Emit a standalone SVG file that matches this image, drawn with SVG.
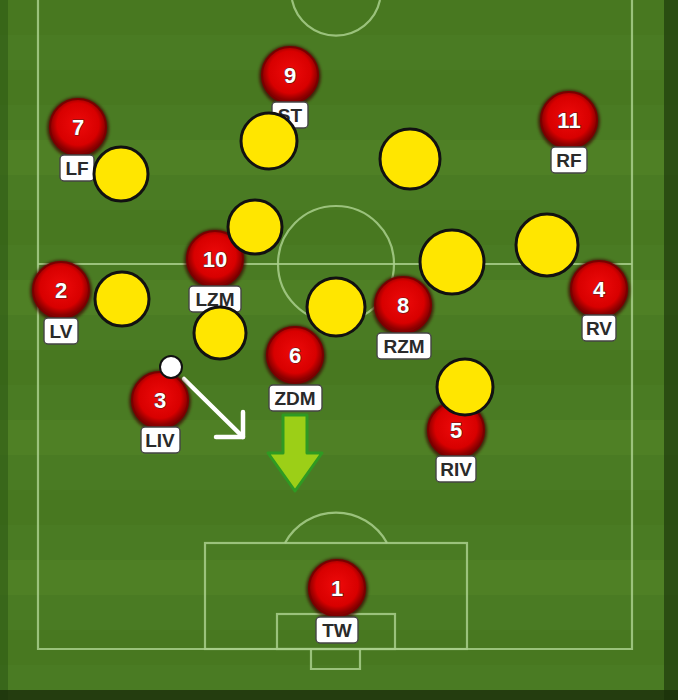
<svg xmlns="http://www.w3.org/2000/svg" width="678" height="700" viewBox="0 0 678 700">
<defs>
<radialGradient id="red" cx="50%" cy="45%" r="50%">
<stop offset="0" stop-color="#ee0a0a"/>
<stop offset="0.75" stop-color="#d80000"/>
<stop offset="1" stop-color="#8a0000"/>
</radialGradient>
<filter id="glow" x="-30%" y="-30%" width="160%" height="160%">
<feGaussianBlur stdDeviation="1.8"/>
</filter>
</defs>
<style>
.line{fill:none;stroke:#a9cf8c;stroke-width:2.2;opacity:0.85}
.shadow{fill:#3a0600;opacity:0.7}
.tok{fill:url(#red);stroke:#7a0000;stroke-width:2}
.num{font-family:"Liberation Sans",Arial,sans-serif;font-weight:bold;font-size:22px;fill:#fff;stroke:#5a1a1a;stroke-width:1.2;paint-order:stroke;text-anchor:middle}
.lab{fill:#fff;stroke:#444;stroke-width:1.4}
.labt{font-family:"Liberation Sans",Arial,sans-serif;font-weight:bold;font-size:19px;fill:#2a2a2a;text-anchor:middle}
.opp{fill:#ffe600;stroke:#111;stroke-width:3}
</style>
<!-- pitch background -->
<rect x="0" y="0" width="678" height="700" fill="#4a7b23"/>
<g opacity="0.5">
<rect x="0" y="0" width="678" height="35" fill="#47761f"/>
<rect x="0" y="70" width="678" height="35" fill="#47761f"/>
<rect x="0" y="140" width="678" height="35" fill="#548628"/>
<rect x="0" y="210" width="678" height="35" fill="#47761f"/>
<rect x="0" y="280" width="678" height="35" fill="#548628"/>
<rect x="0" y="350" width="678" height="35" fill="#47761f"/>
<rect x="0" y="420" width="678" height="35" fill="#548628"/>
<rect x="0" y="490" width="678" height="35" fill="#47761f"/>
<rect x="0" y="560" width="678" height="35" fill="#548628"/>
<rect x="0" y="630" width="678" height="35" fill="#47761f"/>
</g>
<rect x="0" y="0" width="8" height="700" fill="#2f5a14" opacity="0.6"/>
<rect x="664" y="0" width="14" height="700" fill="#1e3a0c" opacity="0.7"/>
<rect x="0" y="690" width="678" height="10" fill="#1a2e0a" opacity="0.8"/>
<!-- field lines -->
<g id="pitch-lines">
<path class="line" d="M38,0 V649 H632 V0"/>
<line class="line" x1="38" y1="264" x2="632" y2="264"/>
<circle class="line" cx="336" cy="264" r="58"/>
<path class="line" d="M292,0 A45,45 0 0 0 380,0"/>
<rect class="line" x="205" y="543" width="262" height="106"/>
<rect class="line" x="277" y="614" width="118" height="35"/>
<path class="line" d="M311,649 V669 H360 V649"/>
<path class="line" d="M285,543 A58,58 0 0 1 387,543"/>
</g>
<!-- connectors / arrows -->
<g id="connectors">
<line x1="184" y1="379" x2="243" y2="437" stroke="#fff" stroke-width="4.5" stroke-linecap="round"/>
<path d="M243,412 V437 H216" fill="none" stroke="#fff" stroke-width="4.5" stroke-linecap="round" stroke-linejoin="round"/>
<path d="M283,415 H307 V453 H322 L295,491 L268,453 H283 Z" fill="#9ccf17" stroke="#2f9a22" stroke-width="3" stroke-linejoin="round"/>
</g>
<!-- players -->
<g id="p9"><circle class="shadow" cx="290" cy="76" r="31" filter="url(#glow)"/><circle class="tok" cx="290" cy="75" r="28"/><text class="num" x="290" y="83">9</text><rect class="lab" x="272" y="102" width="36" height="26" rx="4"/><text class="labt" x="290" y="122">ST</text></g>
<g id="p7"><circle class="shadow" cx="78" cy="128" r="31" filter="url(#glow)"/><circle class="tok" cx="78" cy="127" r="28"/><text class="num" x="78" y="135">7</text><rect class="lab" x="60" y="155" width="34" height="26" rx="4"/><text class="labt" x="77" y="175">LF</text></g>
<g id="p11"><circle class="shadow" cx="569" cy="121" r="31" filter="url(#glow)"/><circle class="tok" cx="569" cy="120" r="28"/><text class="num" x="569" y="128">11</text><rect class="lab" x="551" y="147" width="36" height="26" rx="4"/><text class="labt" x="569" y="167">RF</text></g>
<g id="p10"><circle class="shadow" cx="215" cy="260" r="31" filter="url(#glow)"/><circle class="tok" cx="215" cy="259" r="28"/><text class="num" x="215" y="267">10</text><rect class="lab" x="189" y="286" width="52" height="26" rx="4"/><text class="labt" x="215" y="306">LZM</text></g>
<g id="p2"><circle class="shadow" cx="61" cy="291" r="31" filter="url(#glow)"/><circle class="tok" cx="61" cy="290" r="28"/><text class="num" x="61" y="298">2</text><rect class="lab" x="44" y="318" width="34" height="26" rx="4"/><text class="labt" x="61" y="338">LV</text></g>
<g id="p8"><circle class="shadow" cx="403" cy="306" r="31" filter="url(#glow)"/><circle class="tok" cx="403" cy="305" r="28"/><text class="num" x="403" y="313">8</text><rect class="lab" x="377" y="333" width="54" height="26" rx="4"/><text class="labt" x="404" y="353">RZM</text></g>
<g id="p4"><circle class="shadow" cx="599" cy="290" r="31" filter="url(#glow)"/><circle class="tok" cx="599" cy="289" r="28"/><text class="num" x="599" y="297">4</text><rect class="lab" x="582" y="315" width="34" height="26" rx="4"/><text class="labt" x="599" y="335">RV</text></g>
<g id="p6"><circle class="shadow" cx="295" cy="356" r="31" filter="url(#glow)"/><circle class="tok" cx="295" cy="355" r="28"/><text class="num" x="295" y="363">6</text><rect class="lab" x="269" y="385" width="53" height="26" rx="4"/><text class="labt" x="295" y="405">ZDM</text></g>
<g id="p3"><circle class="shadow" cx="160" cy="401" r="31" filter="url(#glow)"/><circle class="tok" cx="160" cy="400" r="28"/><text class="num" x="160" y="408">3</text><rect class="lab" x="141" y="427" width="39" height="26" rx="4"/><text class="labt" x="160" y="447">LIV</text></g>
<g id="p5"><circle class="shadow" cx="456" cy="431" r="31" filter="url(#glow)"/><circle class="tok" cx="456" cy="430" r="28"/><text class="num" x="456" y="438">5</text><rect class="lab" x="436" y="456" width="40" height="26" rx="4"/><text class="labt" x="456" y="476">RIV</text></g>
<g id="p1"><circle class="shadow" cx="337" cy="589" r="31" filter="url(#glow)"/><circle class="tok" cx="337" cy="588" r="28"/><text class="num" x="337" y="596">1</text><rect class="lab" x="316" y="617" width="42" height="26" rx="4"/><text class="labt" x="337" y="637">TW</text></g>
<!-- opponents -->
<g id="opponents">
<circle id="o1" class="opp" cx="121" cy="174" r="27"/>
<circle id="o2" class="opp" cx="269" cy="141" r="28"/>
<circle id="o3" class="opp" cx="410" cy="159" r="30"/>
<circle id="o4" class="opp" cx="255" cy="227" r="27"/>
<circle id="o5" class="opp" cx="122" cy="299" r="27"/>
<circle id="o6" class="opp" cx="220" cy="333" r="26"/>
<circle id="o7" class="opp" cx="336" cy="307" r="29"/>
<circle id="o8" class="opp" cx="452" cy="262" r="32"/>
<circle id="o9" class="opp" cx="547" cy="245" r="31"/>
<circle id="o10" class="opp" cx="465" cy="387" r="28"/>
</g>
<g id="ball"><circle cx="171" cy="367" r="11" fill="#fff" stroke="#111" stroke-width="2"/></g>
</svg>
